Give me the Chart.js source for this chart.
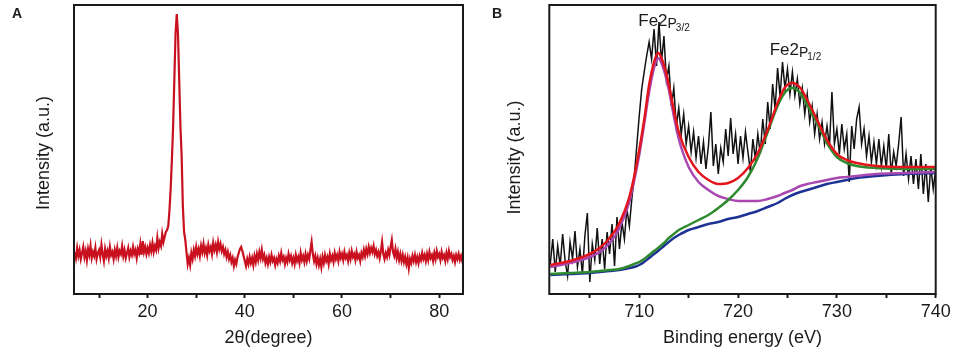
<!DOCTYPE html>
<html><head><meta charset="utf-8">
<script src="https://cdn.jsdelivr.net/npm/chart.js@4/dist/chart.umd.min.js"></script>
<style>
html,body{margin:0;padding:0;background:#fff;width:957px;height:353px;overflow:hidden;}
canvas{position:absolute;top:0;}
#cA{left:0;} #cB{left:480px;}
</style></head><body>
<canvas id="cA" width="480" height="353"></canvas>
<canvas id="cB" width="477" height="353"></canvas>
<script>
// ---------- Panel A: XRD ----------
const xrdStart = 5, xrdStep = 0.25;          // 2θ of first point, spacing (degree)
const xrdIntensity = [
  42,36,46,38,44,35,41,47,37,43,34,45,39,48,36,42,38,46,35,41,
  44,37,49,40,33,45,38,43,36,47,39,42,35,44,38,46,37,43,40,48,
  38,44,36,41,46,37,43,39,47,40,44,36,45,41,50,39,53,42,47,40,
  46,41,49,43,51,42,48,44,56,46,52,48,60,52,57,62,64,68,84,106,
  135,168,215,261,280,260,214,168,138,88,62,54,42,30,36,29,41,35,44,38,
  47,40,45,38,48,42,50,41,46,39,49,43,47,40,51,44,49,42,52,45,
  50,43,47,40,44,37,42,35,39,32,36,28,34,30,37,41,45,47,43,38,
  33,28,35,30,37,31,36,29,38,32,40,34,42,36,44,35,39,31,36,30,
  37,32,39,33,36,29,35,31,38,33,41,34,37,30,36,32,40,34,38,31,
  36,30,39,33,37,31,41,34,38,32,40,33,39,35,44,52,40,33,38,30,
  36,29,35,27,37,31,39,33,37,30,40,34,38,32,41,35,39,33,42,36,
  40,34,42,36,39,33,41,35,43,37,40,34,42,36,39,33,41,37,44,38,
  45,40,47,41,46,42,48,40,44,38,42,36,43,52,40,35,41,37,44,39,
  47,54,42,38,45,36,42,34,40,33,39,32,37,30,36,26,35,31,38,33,
  39,32,37,31,38,34,41,35,39,33,40,34,42,36,39,33,41,35,43,37,
  40,34,42,36,39,33,41,35,43,37,40,34,38,32,39,35,40,34,38,33,
  37
];
const xrdTickMarks = [10, 20, 30, 40, 50, 60, 70, 80];
const xrdLabelTicks = [20, 40, 60, 80];

// ---------- Panel B: XPS Fe 2p ----------
const xpsStart = 701, xpsStep = 0.25;        // binding energy of first point, spacing (eV)
const xpsRaw = [
  30,55,22,48,28,60,33,18,
  52,35,63,27,45,20,58,81,
  12,50,34,66,30,55,25,62,
  40,70,28,77,45,72,55,85,
  68,95,118,148,178,205,222,238,
  252,235,265,228,272,232,258,214,
  228,188,206,168,186,160,180,150,
  168,142,162,136,158,130,152,125,
  148,182,128,150,120,146,132,165,
  138,176,140,160,130,158,136,162,
  142,122,155,135,160,140,175,150,
  192,165,210,185,226,198,232,205,
  225,200,222,198,215,190,206,180,
  200,172,188,160,180,155,172,150,
  168,148,202,150,165,140,170,145,
  160,112,168,145,175,187,150,165,
  138,158,132,152,130,155,128,148,
  125,160,120,142,128,150,177,118,
  140,115,138,110,135,105,140,100,
  130,92,128,105,125
];
const fitEnergy = [701,703,705,706,707,708,709,709.5,710,710.5,711,711.5,711.9,712.5,713,713.5,714,715,716,717,718,719,720,721,722,723,724,724.7,725.5,726.3,727,728,729,730,731,732,734,737,740];
const fitEnvelope = [29,33,40,46,56,71,97,118,144,174,209,232,241,229,209,184,162,137,122,114,110,111,116,126,141,164,191,206,211,206,194,174,154,140,134,131,128,127,127];
const fitFe2p32 = [27,31,37,42,51,66,92,114,139,170,202,226,236,224,204,178,155,127,112,104,98,95,93,93,93,95,98,101,104,108,110,112,114,116,117,118,120,121,122];
const fitFe2p12 = [20,21,22,23,24,25,28,30,32,35,39,43,46,51,56,60,64,69,74,79,86,94,104,117,136,162,188,201,206,201,189,171,151,137,131,128,126,125,125];
const fitBackground = [19,20,21,22,23,24,26,27,29,32,36,40,43,48,52,56,59,64,67,70,72,75,77,80,83,87,91,95,99,102,104,107,110,112,114,116,118,120,121];
const xpsTickMarks = [705, 710, 715, 720, 725, 730, 735, 740];
const xpsLabelTicks = [710, 720, 730, 740];
const peakLabels = [
  {main: 'Fe2', p: 'P', sub: '3/2', e: 709.9, v: 268},
  {main: 'Fe2', p: 'P', sub: '1/2', e: 723.2, v: 239}
];

// ---------- helpers ----------
const FONT = '"Liberation Sans", Arial, Helvetica, sans-serif';
const INK = '#1a1a1a';
Chart.defaults.font.family = FONT;
Chart.defaults.color = INK;

const series = (start, step, vals) => vals.map((v, i) => ({x: +(start + i * step).toFixed(2), y: v}));
const pairs = (xs, ys) => xs.map((x, i) => ({x, y: ys[i]}));

const framePlugin = {
  id: 'frame',
  afterDatasetsDraw(chart, args, o) {
    const {ctx, chartArea: a} = chart;
    ctx.save();
    ctx.strokeStyle = INK; ctx.lineWidth = 2;
    ctx.strokeRect(a.left, a.top, a.right - a.left, a.bottom - a.top);
    ctx.fillStyle = INK;
    ctx.textAlign = 'left'; ctx.textBaseline = 'alphabetic';
    ctx.font = 'bold 14px ' + FONT;
    ctx.fillText(o.letter, 12, 18);
    (o.labels || []).forEach(l => {
      let x = chart.scales.x.getPixelForValue(l.e);
      const y = chart.scales.y.getPixelForValue(l.v);
      ctx.font = '17px ' + FONT; ctx.fillText(l.main, x, y); x += ctx.measureText(l.main).width;
      ctx.font = '14px ' + FONT; ctx.fillText(l.p, x, y + 1.5); x += ctx.measureText(l.p).width - 1;
      ctx.font = '10px ' + FONT; ctx.fillText(l.sub, x, y + 5);
    });
    // y-axis title
    ctx.translate(o.yTitleX, o.yTitleY);
    ctx.rotate(-Math.PI / 2);
    ctx.textAlign = 'center'; ctx.textBaseline = 'middle';
    ctx.font = '18px ' + FONT;
    ctx.fillText(o.yTitle, 0, 0);
    ctx.restore();
  }
};

function makeOptions(c) {
  return {
    responsive: false, animation: false, devicePixelRatio: 1,
    layout: {padding: {left: c.padLeft, right: c.padRight, top: 5, bottom: 0}},
    plugins: {
      legend: {display: false}, tooltip: {enabled: false},
      frame: {letter: c.letter, labels: c.labels, yTitle: 'Intensity (a.u.)', yTitleX: c.yTitleX, yTitleY: c.yTitleY}
    },
    elements: {point: {radius: 0}},
    scales: {
      x: {
        type: 'linear', min: c.xmin, max: c.xmax,
        afterBuildTicks(s) { s.ticks = c.tickMarks.map(v => ({value: v})); },
        afterFit(s) { s.height = 59; },
        ticks: {autoSkip: false, maxRotation: 0, padding: 3,
                font: {size: 18}, color: INK,
                callback: v => c.labelTicks.includes(v) ? String(v) : ''},
        grid: {display: true, drawOnChartArea: false, drawTicks: true, tickLength: 4, tickWidth: 2, tickColor: INK},
        border: {display: false},
        title: {display: true, text: c.xTitle, font: {size: 18}, color: INK, padding: {top: 0, bottom: 4}}
      },
      y: {type: 'linear', min: 0, max: 289, display: false}
    }
  };
}

new Chart(document.getElementById('cA'), {
  type: 'line',
  data: {datasets: [{
    data: series(xrdStart, xrdStep, xrdIntensity),
    borderColor: '#c8101e', borderWidth: 2.2, tension: 0, pointRadius: 0
  }]},
  options: makeOptions({xmin: 4.85, xmax: 84.9, tickMarks: xrdTickMarks, labelTicks: xrdLabelTicks, xTitle: '2θ(degree)',
    padLeft: 74, padRight: 17, letter: 'A', yTitleX: 44, yTitleY: 153}),
  plugins: [framePlugin]
});

new Chart(document.getElementById('cB'), {
  type: 'line',
  data: {datasets: [
    {data: pairs(fitEnergy, fitEnvelope), borderColor: '#e2141c', borderWidth: 2.5, cubicInterpolationMode: 'monotone', pointRadius: 0, order: 0},
    {data: pairs(fitEnergy, fitFe2p12), borderColor: '#2f8a2f', borderWidth: 2.5, cubicInterpolationMode: 'monotone', pointRadius: 0, order: 1},
    {data: pairs(fitEnergy, fitFe2p32), borderColor: '#a848b0', borderWidth: 2.5, cubicInterpolationMode: 'monotone', pointRadius: 0, order: 2},
    {data: pairs(fitEnergy, fitBackground), borderColor: '#1e3296', borderWidth: 2.5, cubicInterpolationMode: 'monotone', pointRadius: 0, order: 3},
    {data: series(xpsStart, xpsStep, xpsRaw), borderColor: '#111111', borderWidth: 1.5, tension: 0, pointRadius: 0, order: 4}
  ]},
  options: makeOptions({xmin: 700.9, xmax: 740, tickMarks: xpsTickMarks, labelTicks: xpsLabelTicks, xTitle: 'Binding energy (eV)',
    padLeft: 69.3, padRight: 21.3, letter: 'B', labels: peakLabels, yTitleX: 35, yTitleY: 157.5}),
  plugins: [framePlugin]
});
</script>
</body></html>
